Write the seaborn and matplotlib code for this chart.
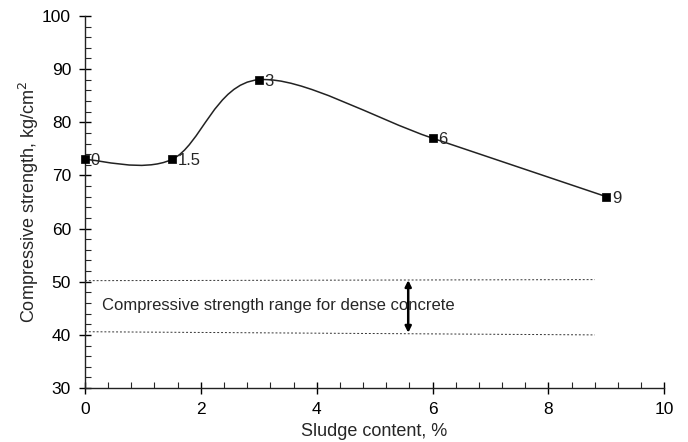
import numpy as np
import pandas as pd
import matplotlib
matplotlib.use("Agg")
import matplotlib.pyplot as plt
from matplotlib.path import Path
from matplotlib.patches import PathPatch
from matplotlib.ticker import MultipleLocator
import seaborn as sns

sns.set_style("ticks")
plt.rcParams["font.family"] = ["Liberation Sans", "DejaVu Sans"]

# data
sludge = [0, 1.5, 3, 6, 9]
strength = [73, 73, 88, 77, 66]
point_labels = ["0", "1.5", "3", "6", "9"]

# dense concrete range lines (x ends, y at left/right ends)
range_x = [0, 8.8]
upper_y = [50.2, 50.4]
lower_y = [40.6, 40.0]
arrow_x = 5.58
arrow_y = [40.4, 50.3]

df = pd.DataFrame({"sludge": sludge, "strength": strength})

fig = plt.figure(figsize=(6.88, 4.42), dpi=100)
ax = fig.add_axes([0.1235, 0.122, 0.842, 0.842])

# smooth curve (Excel-like Catmull-Rom via cubic Bezier segments)
pts = list(zip(sludge, strength))
verts = [pts[0]]
codes = [Path.MOVETO]
n = len(pts)
for i in range(n - 1):
    p0 = np.array(pts[max(i - 1, 0)])
    p1 = np.array(pts[i])
    p2 = np.array(pts[i + 1])
    p3 = np.array(pts[min(i + 2, n - 1)])
    c1 = p1 + (p2 - p0) / 6
    c2 = p2 - (p3 - p1) / 6
    verts += [tuple(c1), tuple(c2), tuple(p2)]
    codes += [Path.CURVE4] * 3
ax.add_patch(PathPatch(Path(verts, codes), facecolor="none", edgecolor="#222222", lw=1.1))

sns.scatterplot(data=df, x="sludge", y="strength", marker="s", s=40, color="black",
                edgecolor="black", ax=ax, zorder=3, clip_on=False)
for xv, yv, lab in zip(sludge, strength, point_labels):
    ax.annotate(lab, (xv, yv), xytext=(4, -1), textcoords="offset points",
                va="center", ha="left", fontsize=12)

ax.plot(range_x, upper_y, ls=(0, (2, 2)), color="#333333", lw=0.7)
ax.plot(range_x, lower_y, ls=(0, (2, 2)), color="#333333", lw=0.7)
ax.annotate("", xy=(arrow_x, arrow_y[1]), xytext=(arrow_x, arrow_y[0]),
            arrowprops=dict(arrowstyle="<|-|>", color="black", lw=1.8,
                            mutation_scale=9, shrinkA=0, shrinkB=0))
ax.text(0.3, 45.6, "Compressive strength range for dense concrete",
        fontsize=12, va="center", ha="left")

ax.set_xlim(0, 10)
ax.set_ylim(30, 100)
ax.xaxis.set_major_locator(MultipleLocator(2))
ax.xaxis.set_minor_locator(MultipleLocator(0.4))
ax.yaxis.set_major_locator(MultipleLocator(10))
ax.yaxis.set_minor_locator(MultipleLocator(2))
ax.tick_params(which="major", direction="inout", length=8, width=1, labelsize=12.5,
               colors="black", pad=6)
ax.tick_params(which="minor", direction="in", length=4, width=0.8)
ax.set_xlabel("Sludge content, %", fontsize=13, labelpad=4)
ax.set_ylabel("Compressive strength, kg/cm$^2$", fontsize=13, labelpad=1)
sns.despine(ax=ax)
for s in ["left", "bottom"]:
    ax.spines[s].set_color("#222222")
    ax.spines[s].set_linewidth(1.0)

fig.savefig("out.png", dpi=100)
